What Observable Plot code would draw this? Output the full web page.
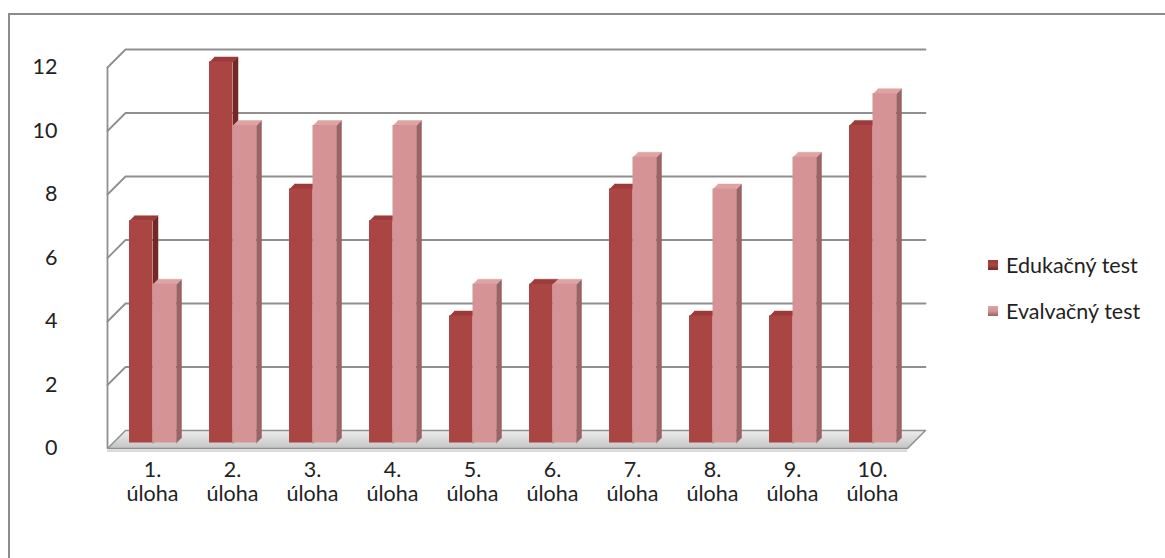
<!DOCTYPE html>
<html>
<head>
<meta charset="utf-8">
<script src="https://cdn.jsdelivr.net/npm/d3@7"></script>
<script src="https://cdn.jsdelivr.net/npm/@observablehq/plot@0.6"></script>
<style>
  html, body { margin: 0; padding: 0; background: #fff; }
  #wrap { position: relative; width: 1165px; height: 558px; overflow: hidden; font-family: Lato, "Open Sans", sans-serif; }
  #border { position: absolute; left: 8px; top: 13px; width: 1170px; height: 560px; border-left: 2px solid #8c8c8c; border-top: 2px solid #8c8c8c; box-sizing: border-box; }
  #chart { position: absolute; left: 0; top: 0; }
  .leg { position: absolute; left: 988px; display: flex; align-items: center; font-size: 21.5px; color: #222; white-space: nowrap; }
  .sw { width: 10px; height: 10px; margin-right: 8px; box-sizing: border-box; }
</style>
</head>
<body>
<div id="wrap">
  <div id="border"></div>
  <div id="chart"></div>
  <div id="legend"></div>
</div>
<script>
// ---- data ----
const categories = ["1. úloha", "2. úloha", "3. úloha", "4. úloha", "5. úloha",
                    "6. úloha", "7. úloha", "8. úloha", "9. úloha", "10. úloha"];
const seriesNames = ["Edukačný test", "Evalvačný test"];
const edukacny = [7, 12, 8, 7, 4, 5, 8, 4, 4, 10];
const evalvacny = [5, 10, 10, 10, 5, 5, 9, 8, 9, 11];
const yTicks = [0, 2, 4, 6, 8, 10, 12];

// ---- layout / style ----
const W = 960, H = 558;
const mL = 107, mR = 53, mT = 67, mB = 110;
const n = categories.length;
const yMax = 12;
const pxX = (W - mL - mR) / n;       // px per category unit
const pxY = (H - mT - mB) / yMax;     // px per value unit
const toUX = px => px / pxX, toUY = px => px / pxY;

const wallDX = toUX(18), wallDY = toUY(18);   // depth of the 3D box
const barPX = toUX(5.5), barPY = toUY(5.5);   // bars' front plane offset
const barTX = toUX(5), barTY = toUY(5);       // bar thickness (depth)
const barW = toUX(23.5);

const colors = {
  [seriesNames[0]]: {front: "#a94543", side: "#712827", top: "#9c3b3a"},
  [seriesNames[1]]: {front: "#d59395", side: "#9a6364", top: "#dfa3a4"}
};

// bars table
const bars = [];
categories.forEach((c, i) => {
  const c0 = i + 0.5 + barPX;
  bars.push({cat: c, series: seriesNames[0], value: edukacny[i], x1: c0 - barW, x2: c0});
  bars.push({cat: c, series: seriesNames[1], value: evalvacny[i], x1: c0, x2: c0 + barW});
});

// polygons for side and top faces (3D projection in data units)
function sidePoly(b) {
  const y0 = barPY, y1 = b.value + barPY;
  return [[b.x2, y0], [b.x2, y1], [b.x2 + barTX, y1 + barTY], [b.x2 + barTX, y0 + barTY]]
    .map(([x, y], k) => ({key: b.cat + b.series + "s", series: b.series, x, y, k}));
}
function topPoly(b) {
  const y1 = b.value + barPY;
  return [[b.x1, y1], [b.x2, y1], [b.x2 + barTX, y1 + barTY], [b.x1 + barTX, y1 + barTY]]
    .map(([x, y], k) => ({key: b.cat + b.series + "t", series: b.series, x, y, k}));
}

function barLayer(series) {
  const bs = bars.filter(b => b.series === series);
  const c = colors[series];
  return [
    Plot.line(bs.flatMap(sidePoly), {x: "x", y: "y", z: "key", fill: c.side, stroke: c.side, strokeWidth: 0.5}),
    Plot.line(bs.flatMap(topPoly), {x: "x", y: "y", z: "key", fill: c.top, stroke: c.top, strokeWidth: 0.5}),
    Plot.rect(bs, {x1: "x1", x2: "x2", y1: () => barPY, y2: d => d.value + barPY, fill: c.front})
  ];
}

// back-wall gridlines with left-wall diagonals
const grid = yTicks.filter(v => v > 0).flatMap(v => [
  {v, x: 0, y: v}, {v, x: wallDX, y: v + wallDY}, {v, x: n + wallDX, y: v + wallDY}
]);
const floor = [{x: 0, y: 0}, {x: n, y: 0}, {x: n + wallDX, y: wallDY}, {x: wallDX, y: wallDY}, {x: 0, y: 0}];

const plot = Plot.plot({
  width: W, height: H,
  marginLeft: mL, marginRight: mR, marginTop: mT, marginBottom: mB,
  x: {type: "linear", domain: [0, n], axis: null},
  y: {domain: [0, yMax], axis: null},
  style: {fontFamily: "Lato, 'Open Sans', sans-serif", fontSize: "21.5px", color: "#222", background: "transparent"},
  marks: [
    Plot.line(floor, {x: "x", y: "y", fill: "url(#floorGrad)", stroke: "#8f8f8f", strokeWidth: 1.5}),
    Plot.ruleY([0], {dy: 2.5, stroke: "#b5b5b5", strokeWidth: 1.2}),
    Plot.line(grid, {x: "x", y: "y", z: "v", stroke: "#8f8f8f", strokeWidth: 1.8}),
    Plot.ruleX([0], {y1: 0, y2: yMax, stroke: "#8f8f8f", strokeWidth: 1.8}),
    ...barLayer(seriesNames[0]),
    ...barLayer(seriesNames[1]),
    Plot.axisY({ticks: yTicks, tickSize: 0, tickPadding: 50, label: null, tickFormat: d => String(d)}),
    Plot.text(categories, {x: (d, i) => i + 0.5, frameAnchor: "bottom", dy: 12, dx: 5,
      text: d => d.replace(" ", "\n"), lineAnchor: "top", lineHeight: 1.1, fill: "#222"})
  ]
});

// gradient for the floor
const defs = document.createElementNS("http://www.w3.org/2000/svg", "defs");
defs.innerHTML = `<linearGradient id="floorGrad" x1="0" y1="0" x2="0" y2="1">
  <stop offset="0" stop-color="#eeeeee"/><stop offset="1" stop-color="#c4c4c4"/></linearGradient>`;
plot.insertBefore(defs, plot.firstChild);
document.getElementById("chart").appendChild(plot);

// legend
const leg = document.getElementById("legend");
seriesNames.forEach((s, i) => {
  const row = document.createElement("div");
  row.className = "leg";
  row.style.top = (252 + i * 46) + "px";
  const sw = document.createElement("div");
  sw.className = "sw";
  sw.style.background = `linear-gradient(${colors[s].top}, ${colors[s].front} 50%, ${colors[s].side})`;
  row.appendChild(sw);
  row.appendChild(document.createTextNode(s));
  leg.appendChild(row);
});
</script>
</body>
</html>
